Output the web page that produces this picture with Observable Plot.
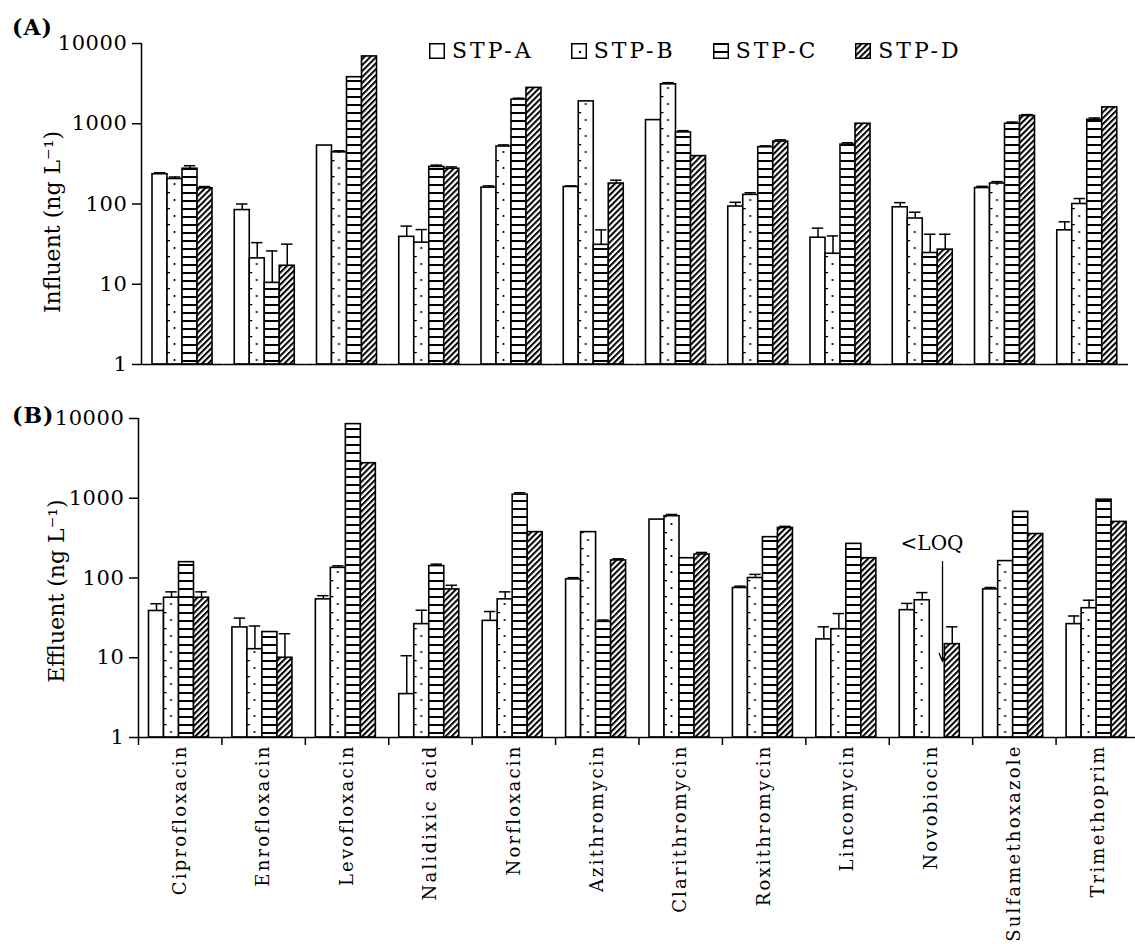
<!DOCTYPE html>
<html>
<head>
<meta charset="utf-8">
<script src="https://cdn.jsdelivr.net/npm/d3@7"></script>
<script src="https://cdn.jsdelivr.net/npm/@observablehq/plot@0.6"></script>
<style>
  html, body { margin: 0; padding: 0; background: #fff; overflow: hidden; }
  #wrap { position: relative; width: 1135px; height: 944px; font-family: "DejaVu Serif", serif; color: #000; }
  #wrap svg.plot { display: block; }
  .panel-label { position: absolute; left: 12px; font-weight: bold; font-size: 22px; letter-spacing: 1px; line-height: 1; }
  #legend { position: absolute; top: 38px; left: 429px; display: flex; gap: 37px; font-size: 22px; letter-spacing: 3px; }
  #legend .item { display: flex; align-items: center; gap: 7px; }
  #legend svg { display: block; }
</style>
</head>
<body>
<svg width="0" height="0" style="position:absolute">
  <defs>
    <pattern id="dotsA" patternUnits="userSpaceOnUse" x="2" y="0" width="15" height="16">
      <rect width="15" height="16" fill="white"/>
      <circle cx="7.5" cy="8" r="1.1" fill="black"/>
      <rect x="0" y="0" width="3" height="1.3" fill="black"/>
    </pattern>
    <pattern id="dotsB" patternUnits="userSpaceOnUse" x="13.5" y="0" width="15" height="16">
      <rect width="15" height="16" fill="white"/>
      <circle cx="7.5" cy="8" r="1.1" fill="black"/>
      <rect x="0" y="0" width="3" height="1.3" fill="black"/>
    </pattern>
    <pattern id="dotsL" patternUnits="userSpaceOnUse" x="0" y="0" width="15" height="15">
      <rect width="15" height="15" fill="white"/>
      <circle cx="9" cy="9" r="1.2" fill="black"/>
    </pattern>
    <pattern id="hlines" patternUnits="userSpaceOnUse" width="15" height="8">
      <rect width="15" height="8" fill="white"/>
      <rect x="0" y="0" width="15" height="2" fill="black"/>
    </pattern>
    <pattern id="hatch" patternUnits="userSpaceOnUse" width="4.2" height="4.2" patternTransform="rotate(45)">
      <rect width="4.2" height="4.2" fill="white"/>
      <rect x="0" y="0" width="2" height="4.2" fill="black"/>
    </pattern>
  </defs>
</svg>

<div id="wrap">
  <div id="legend"></div>
</div>

<script>
// ---------- data ----------
const drugs = ["Ciprofloxacin", "Enrofloxacin", "Levofloxacin", "Nalidixic acid", "Norfloxacin",
  "Azithromycin", "Clarithromycin", "Roxithromycin", "Lincomycin", "Novobiocin",
  "Sulfamethoxazole", "Trimethoprim"];
const series = ["STP-A", "STP-B", "STP-C", "STP-D"];
const yTicks = [1, 10, 100, 1000, 10000];

// (A) Influent, ng/L
const influentA = [235, 84, 535, 39, 160, 163, 1110, 93, 38, 91, 158, 47];
const influentB = [205, 21, 440, 33, 520, 1900, 3100, 130, 24, 66, 180, 100];
const influentC = [275, 10.4, 3800, 290, 2000, 31, 780, 510, 550, 24.5, 1000, 1120];
const influentD = [157, 17, 6900, 275, 2800, 180, 395, 600, 1000, 27, 1250, 1600];
// upper error (SD)
const influentErrA = [10, 16, 0, 14, 8, 5, 0, 12, 12, 13, 8, 13];
const influentErrB = [12, 12, 20, 15, 25, 0, 150, 8, 16, 13, 10, 17];
const influentErrC = [25, 15.6, 0, 15, 80, 16.6, 40, 20, 30, 17.5, 50, 60];
const influentErrD = [8, 14.6, 0, 15, 0, 18, 0, 30, 0, 15, 50, 0];

// (B) Effluent, ng/L (null = <LOQ)
const effluentA = [38.6, 24, 54, 3.5, 29, 96, 540, 75, 17, 39.5, 72, 26.4];
const effluentB = [56.6, 12.8, 134, 26.4, 54, 376, 596, 100, 22.8, 52.6, 163, 41.8];
const effluentC = [158, 21, 8500, 141, 1110, 28.2, 177, 325, 268, null, 675, 960];
const effluentD = [56.6, 10, 2750, 72, 376, 166, 197, 424, 177, 14.8, 356, 505];
const effluentErrA = [9, 7.4, 6, 7.1, 9, 5, 0, 4, 7.4, 8.5, 4, 7];
const effluentErrB = [10.4, 12.2, 8, 13, 13, 0, 30, 11, 13, 13, 0, 10.8];
const effluentErrC = [0, 0, 0, 8, 60, 1.5, 0, 0, 0, 0, 0, 0];
const effluentErrD = [10.4, 10, 0, 9, 0, 8, 12, 20, 0, 9.6, 0, 0];

// annotation: <LOQ for STP-C Novobiocin effluent
const loqNote = [{drug: "Novobiocin", label: "<LOQ", seriesIndex: 2, labelAt: 270, arrowFrom: 160, arrowTo: 9}];

const panelLabels = ["(A)", "(B)"];

// ---------- helpers ----------
function rowsFor(values, errors) {
  return drugs.flatMap((drug, i) => series.map((s, j) => ({drug, series: s, j, v: values[j][i], e: errors[j][i]})))
    .filter(d => d.v != null);
}

function panel(cfg) {
  const rows = rowsFor(cfg.values, cfg.errors);
  const errs = rows.filter(d => d.e > 0);
  const first = [{drug: drugs[0]}];
  const marks = [
    Plot.rectY(rows, {fx: "drug", x1: "j", x2: d => d.j + 1, y1: 1, y2: "v",
      fill: d => cfg.fills[d.j], stroke: "black", strokeWidth: 1.6}),
    Plot.ruleX(errs, {fx: "drug", x: d => d.j + 0.5, y1: "v", y2: d => d.v + d.e, strokeWidth: 1.5}),
    Plot.ruleY(errs, {fx: "drug", y: d => d.v + d.e, x1: d => d.j + 0.12, x2: d => d.j + 0.88, strokeWidth: 1.5}),
    Plot.ruleY([1], {strokeWidth: 1.5}),
    Plot.ruleX(first, {fx: "drug", x: () => cfg.xDomain[0], strokeWidth: 1.5}),
    Plot.axisY({ticks: yTicks, tickFormat: d => String(d), tickSize: 9, tickPadding: 5,
      fontSize: 21, strokeWidth: 1.5, label: null}),
    Plot.text(first, {fx: "drug", text: () => cfg.title, frameAnchor: "left", textAnchor: "middle", rotate: -90,
      dx: cfg.titleDx, dy: cfg.titleDy, fontSize: 22})
  ];
  if (cfg.bottomAxis) {
    marks.push(
      Plot.ruleX([cfg.xDomain[0]], {x: d => d, y1: 1, y2: 1, insetBottom: -8, strokeWidth: 1.5}),
      Plot.axisFx({anchor: "bottom", tickSize: 0, tickPadding: 7, tickRotate: -90, fontSize: 18, label: null})
    );
  }
  if (cfg.notes) {
    marks.push(
      Plot.text(cfg.notes, {fx: "drug", x: d => d.seriesIndex + 0.15, y: "labelAt", text: "label", fontSize: 20}),
      Plot.arrow(cfg.notes, {fx: "drug", x1: d => d.seriesIndex + 0.85, x2: d => d.seriesIndex + 0.85,
        y1: "arrowFrom", y2: "arrowTo", headLength: 10, headAngle: 45, strokeWidth: 1.3})
    );
  }
  const fxOpts = {domain: drugs, padding: 0, round: false};
  if (!cfg.bottomAxis) fxOpts.axis = null;
  const svg = Plot.plot({
    width: 1135,
    height: cfg.height,
    marginTop: cfg.marginTop,
    marginBottom: cfg.marginBottom,
    marginLeft: cfg.marginLeft,
    marginRight: cfg.marginRight,
    fx: fxOpts,
    x: {domain: cfg.xDomain, axis: null},
    y: {type: "log", domain: [1, 10000]},
    color: {type: "identity"},
    style: {fontFamily: "DejaVu Serif", background: "transparent", color: "black", overflow: "visible"},
    marks
  });
  svg.classList.add("plot");
  // typographic spacing only
  svg.querySelectorAll("text").forEach(t => {
    const s = t.textContent;
    if (drugs.includes(s)) t.style.letterSpacing = "2.2px";
    else if (yTicks.map(String).includes(s)) t.style.letterSpacing = "0.6px";
  });
  return svg;
}

const wrap = document.getElementById("wrap");

wrap.appendChild(panel({
  values: [influentA, influentB, influentC, influentD],
  errors: [influentErrA, influentErrB, influentErrC, influentErrD],
  fills: ["white", "url(#dotsA)", "url(#hlines)", "url(#hatch)"],
  height: 372, marginTop: 43, marginBottom: 8, marginLeft: 141, marginRight: 7,
  xDomain: [-0.7333, 4.75],
  title: "Influent (ng L⁻¹)", titleDx: -89, titleDy: 18,
  bottomAxis: false
}));

wrap.appendChild(panel({
  values: [effluentA, effluentB, effluentC, effluentD],
  errors: [effluentErrA, effluentErrB, effluentErrC, effluentErrD],
  fills: ["white", "url(#dotsB)", "url(#hlines)", "url(#hatch)"],
  height: 572, marginTop: 46, marginBottom: 207, marginLeft: 138, marginRight: -4,
  xDomain: [-0.7, 4.86],
  title: "Effluent (ng L⁻¹)", titleDx: -82, titleDy: 13,
  bottomAxis: true,
  notes: loqNote
}));

// panel labels
[[panelLabels[0], 16], [panelLabels[1], 404]].forEach(([txt, top]) => {
  const d = document.createElement("div");
  d.className = "panel-label";
  d.style.top = top + "px";
  d.textContent = txt;
  wrap.appendChild(d);
});

// legend
const legendFills = ["white", "url(#dotsL)", "url(#hlines)", "url(#hatch)"];
const legend = document.getElementById("legend");
series.forEach((s, j) => {
  const item = document.createElement("div");
  item.className = "item";
  item.innerHTML = `<svg width="16" height="16"><rect x="0.75" y="0.75" width="14.5" height="14.5" fill="${legendFills[j]}" stroke="black" stroke-width="1.5"/></svg><span>${s}</span>`;
  legend.appendChild(item);
});
</script>
</body>
</html>
